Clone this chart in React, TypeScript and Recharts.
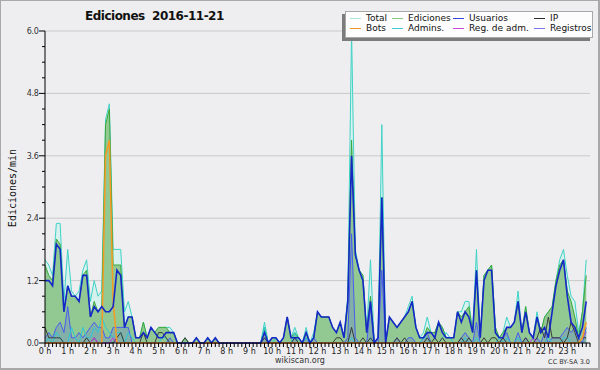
import { ComposedChart, Area, Line, XAxis, YAxis, CartesianGrid } from "recharts";

// ── Data (10-minute slots, edits per minute) ─────────────────────────────────

const HOURS = [
  "0 h", "1 h", "2 h", "3 h", "4 h", "5 h", "6 h", "7 h", "8 h", "9 h", "10 h", "11 h",
  "12 h", "13 h", "14 h", "15 h", "16 h", "17 h", "18 h", "19 h", "20 h", "21 h", "22 h", "23 h",
];

const TOTAL = [
  1.6, 1.5, 1.3, 2.3, 2.3, 0.8,
  1.8, 1.0, 0.9, 1.0, 1.4, 1.6,
  0.8, 1.2, 0.9, 1.0, 4.3, 4.6,
  1.8, 1.8, 1.8, 0.6, 0.8, 0.5,
  0.1, 0.1, 0.4, 0.1, 0.3, 0.2,
  0.3, 0.3, 0.3, 0.3, 0.2, 0,
  0, 0.1, 0, 0, 0.1, 0,
  0, 0.1, 0, 0.1, 0, 0,
  0, 0, 0, 0, 0, 0,
  0, 0, 0, 0, 0.4, 0,
  0.1, 0.1, 0, 0.1, 0.5, 0.1,
  0.3, 0.1, 0, 0.3, 0, 0.2,
  0.6, 0.5, 0.5, 0.5, 0.3, 0.2,
  0.4, 0.1, 0.9, 6.0, 1.8, 1.4,
  1.3, 0.2, 1.6, 0, 0.1, 4.2,
  0, 0.5, 0.4, 0.3, 0.4, 0.5,
  0.7, 0.9, 0.3, 0.1, 0.2, 0.5,
  0.2, 0.2, 0.4, 0.3, 0.1, 0.1,
  0.1, 0.6, 0.6, 0.8, 0.8, 0.2,
  1.8, 0.1, 1.3, 1.4, 1.5, 0.3,
  0.1, 0.2, 0.5, 0.3, 0.4, 1.0,
  0.2, 0.7, 0.2, 0.1, 0.6, 0.2,
  0.5, 0.6, 0.7, 1.2, 1.6, 1.8,
  1.3, 0.9, 0.8, 0.2, 0.6, 1.6,
];

const EDICIONES = [
  1.5, 1.3, 1.2, 2.0, 1.9, 0.6,
  1.1, 0.9, 0.9, 0.8, 1.3, 1.4,
  0.5, 0.8, 0.6, 0.7, 4.2, 4.5,
  1.5, 1.5, 1.5, 0.3, 0.5, 0.5,
  0.1, 0.1, 0.4, 0.1, 0.3, 0.2,
  0.3, 0.3, 0.3, 0.2, 0.2, 0,
  0, 0.1, 0, 0, 0.1, 0,
  0, 0.1, 0, 0.1, 0, 0,
  0, 0, 0, 0, 0, 0,
  0, 0, 0, 0, 0.3, 0,
  0.1, 0.1, 0, 0.1, 0.5, 0.1,
  0.2, 0.1, 0, 0.2, 0, 0.1,
  0.6, 0.5, 0.5, 0.5, 0.3, 0.2,
  0.4, 0.1, 0.8, 3.9, 1.7, 1.4,
  1.3, 0.2, 0.9, 0, 0.1, 2.8,
  0, 0.5, 0.4, 0.3, 0.4, 0.5,
  0.6, 0.8, 0.3, 0.1, 0.1, 0.3,
  0.2, 0.2, 0.4, 0.3, 0.1, 0.1,
  0.1, 0.6, 0.5, 0.6, 0.7, 0.2,
  1.4, 0.1, 1.3, 1.4, 1.5, 0.3,
  0.1, 0.2, 0.3, 0.3, 0.4, 0.8,
  0.2, 0.7, 0.2, 0.1, 0.5, 0.2,
  0.5, 0.6, 0.7, 1.2, 1.5, 1.6,
  1.0, 0.8, 0.5, 0.1, 0.6, 1.3,
];

const USUARIOS = [
  1.2, 1.2, 1.1, 1.9, 1.8, 0.6,
  1.1, 0.9, 0.9, 0.8, 1.3, 1.3,
  0.5, 0.7, 0.6, 0.7, 0.6, 0.6,
  0.7, 1.4, 1.3, 0.3, 0.5, 0.5,
  0.1, 0.1, 0.2, 0.1, 0.3, 0.2,
  0.1, 0.1, 0.2, 0.2, 0.2, 0,
  0, 0, 0, 0, 0.1, 0,
  0, 0.1, 0, 0.1, 0, 0,
  0, 0, 0, 0, 0, 0,
  0, 0, 0, 0, 0.2, 0,
  0.1, 0.1, 0, 0.1, 0.5, 0.1,
  0.1, 0.1, 0, 0.2, 0, 0.1,
  0.6, 0.5, 0.5, 0.5, 0.3, 0.2,
  0.4, 0.1, 0.8, 3.6, 1.7, 1.4,
  1.2, 0.2, 0.8, 0, 0.1, 2.8,
  0, 0.5, 0.4, 0.3, 0.4, 0.5,
  0.6, 0.8, 0.3, 0.1, 0.1, 0.2,
  0.2, 0.1, 0.4, 0.2, 0.1, 0.1,
  0.1, 0.6, 0.4, 0.6, 0.5, 0.2,
  1.4, 0.1, 1.2, 1.4, 1.4, 0.2,
  0.1, 0.1, 0.3, 0.3, 0.4, 0.8,
  0.2, 0.6, 0.2, 0.1, 0.5, 0.2,
  0.3, 0.1, 0.6, 1.1, 1.4, 1.6,
  0.9, 0.4, 0.3, 0.1, 0.3, 0.8,
];

const IP = [
  0.3, 0.1, 0.1, 0.1, 0.1, 0,
  0, 0, 0, 0, 0, 0.1,
  0, 0.1, 0, 0, 0, 0,
  0, 0.1, 0.2, 0, 0, 0,
  0, 0, 0.2, 0, 0, 0,
  0.2, 0.2, 0.1, 0, 0, 0,
  0, 0.1, 0, 0, 0, 0,
  0, 0, 0, 0, 0, 0,
  0, 0, 0, 0, 0, 0,
  0, 0, 0, 0, 0.1, 0,
  0, 0, 0, 0, 0, 0,
  0.1, 0, 0, 0, 0, 0,
  0, 0, 0, 0, 0, 0.1,
  0.1, 0, 0, 0.3, 0, 0,
  0.1, 0, 0.1, 0, 0, 0,
  0, 0, 0, 0.1, 0, 0.1,
  0, 0, 0, 0, 0, 0.1,
  0, 0.1, 0, 0.1, 0, 0,
  0, 0, 0.1, 0, 0.1, 0,
  0, 0, 0.1, 0, 0.1, 0.1,
  0, 0.1, 0, 0, 0, 0,
  0, 0.1, 0, 0, 0.1, 0.3,
  0.1, 0.5, 0.1, 0.1, 0.1, 0,
  0.1, 0.4, 0.2, 0, 0.1, 0.1,
];

const BOTS = [
  0, 0, 0, 0, 0, 0,
  0, 0, 0, 0, 0, 0,
  0, 0, 0, 0, 3.6, 3.9,
  0.8, 0, 0, 0, 0, 0,
  0, 0, 0, 0, 0, 0,
  0, 0, 0, 0, 0, 0,
  0, 0, 0, 0, 0, 0,
  0, 0, 0, 0, 0, 0,
  0, 0, 0, 0, 0, 0,
  0, 0, 0, 0, 0, 0,
  0, 0, 0, 0, 0, 0,
  0, 0, 0, 0, 0, 0,
  0, 0, 0, 0, 0, 0,
  0, 0, 0, 0, 0, 0,
  0, 0, 0, 0, 0, 0,
  0, 0, 0, 0, 0, 0,
  0, 0, 0, 0, 0, 0,
  0, 0, 0, 0, 0, 0,
  0, 0, 0, 0, 0, 0,
  0, 0, 0, 0, 0, 0,
  0, 0, 0, 0, 0, 0,
  0, 0, 0, 0, 0, 0,
  0, 0, 0, 0, 0, 0,
  0, 0, 0, 0, 0.1, 0.4,
];

const ADMINS = [
  0, 0.1, 0, 0.2, 0.1, 0,
  0, 0.3, 0.1, 0, 0.3, 0.1,
  0.1, 0.3, 0.2, 0.5, 0.3, 0.2,
  0.1, 0.2, 0.2, 0, 0.2, 0.1,
  0, 0, 0, 0, 0, 0,
  0, 0.1, 0.1, 0, 0, 0,
  0, 0, 0, 0, 0, 0,
  0, 0.1, 0, 0, 0, 0,
  0, 0, 0, 0, 0, 0,
  0, 0, 0, 0, 0.3, 0,
  0, 0.1, 0, 0, 0, 0,
  0.2, 0, 0, 0.1, 0, 0,
  0, 0, 0, 0, 0, 0,
  0, 0, 0, 0.1, 0, 0,
  0, 0, 0.1, 0, 0, 0,
  0, 0, 0, 0, 0, 0,
  0, 0, 0, 0, 0.1, 0.1,
  0, 0, 0, 0.1, 0.2, 0.1,
  0, 0, 0, 0.1, 0, 0,
  0.1, 0, 0, 0, 0, 0,
  0.1, 0, 0.1, 0, 0, 0.1,
  0, 0, 0, 0.1, 0, 0,
  0, 0.1, 0, 0, 0, 0.1,
  0.1, 0, 0, 0, 0.1, 0.2,
];

const REG_ADM = [
  0, 0, 0, 0, 0, 0,
  0, 0, 0, 0, 0, 0,
  0, 0.1, 0, 0, 0, 0,
  0.1, 0, 0, 0, 0, 0,
  0, 0, 0, 0, 0, 0,
  0, 0, 0, 0, 0, 0,
  0, 0, 0, 0, 0, 0,
  0, 0, 0, 0, 0, 0,
  0, 0, 0, 0, 0, 0,
  0, 0, 0, 0, 0, 0,
  0, 0, 0, 0, 0, 0,
  0, 0, 0, 0, 0, 0,
  0, 0, 0, 0, 0, 0,
  0, 0, 0, 0, 0, 0,
  0, 0, 0, 0, 0, 0,
  0, 0, 0, 0, 0, 0,
  0, 0, 0, 0, 0, 0,
  0, 0, 0, 0, 0, 0,
  0, 0, 0, 0, 0, 0,
  0, 0, 0, 0, 0, 0,
  0, 0, 0, 0, 0, 0,
  0, 0, 0, 0.1, 0, 0,
  0, 0, 0, 0, 0, 0,
  0, 0, 0, 0, 0.1, 0.2,
];

const REGISTROS = [
  0.1, 0.2, 0.1, 0.3, 0.4, 0.2,
  0.7, 0.1, 0.1, 0.2, 0.1, 0.2,
  0.3, 0.4, 0.3, 0.3, 0.1, 0.1,
  0.3, 0.3, 0.3, 0.3, 0.3, 0,
  0, 0, 0, 0, 0, 0,
  0, 0, 0, 0.1, 0, 0,
  0, 0, 0, 0, 0, 0,
  0, 0, 0, 0, 0, 0,
  0, 0, 0, 0, 0, 0,
  0, 0, 0, 0, 0.1, 0,
  0, 0, 0, 0, 0, 0,
  0.1, 0, 0, 0.1, 0, 0.1,
  0, 0, 0, 0, 0, 0,
  0, 0, 0.1, 2.1, 0.1, 0,
  0, 0, 0.7, 0, 0, 1.4,
  0, 0, 0, 0.1, 0, 0,
  0.1, 0.1, 0, 0, 0.1, 0.2,
  0, 0, 0, 0, 0, 0,
  0, 0, 0.1, 0.2, 0.1, 0,
  0.4, 0, 0, 0, 0, 0,
  0, 0.1, 0.2, 0, 0, 0.2,
  0, 0.1, 0, 0, 0.1, 0,
  0.2, 0, 0.1, 0.1, 0.1, 0.2,
  0.3, 0.2, 0.3, 0.1, 0, 0.3,
];

const Y_TICKS = [0, 0.3, 0.6, 0.9, 1.2, 1.5, 1.8, 2.1, 2.4, 2.7, 3.0, 3.3, 3.6, 3.9, 4.2, 4.5, 4.8, 5.1, 5.4, 5.7, 6.0];
const Y_LABELED = [0, 1.2, 2.4, 3.6, 4.8, 6.0];
const SLOTS_PER_HOUR = 6;
const X_TICKS = Array.from({ length: HOURS.length * SLOTS_PER_HOUR + 1 }, (_, k) => k);

const LEGEND = [
  { label: "Total", color: "#a9e6de" },
  { label: "Ediciones", color: "#86c886" },
  { label: "Usuarios", color: "#3a44e0" },
  { label: "IP", color: "#2a2a2a" },
  { label: "Bots", color: "#f0962a" },
  { label: "Admins.", color: "#3ecbd8" },
  { label: "Reg. de adm.", color: "#c84ad8" },
  { label: "Registros", color: "#7a78e8" },
];

const data = TOTAL.map((total, slot) => ({
  slot,
  total,
  ediciones: EDICIONES[slot],
  usuarios: USUARIOS[slot],
  ip: IP[slot],
  bots: BOTS[slot],
  admins: ADMINS[slot],
  regAdm: REG_ADM[slot],
  registros: REGISTROS[slot],
}));

const isMajor = (v: number) => Y_LABELED.some(m => Math.abs(m - v) < 1e-6);

// ── Axis ticks ───────────────────────────────────────────────────────────────

function XTick({ x, y, payload }: any) {
  const v = payload.value as number;
  const hour = v % SLOTS_PER_HOUR === 0 ? HOURS[v / SLOTS_PER_HOUR] : undefined;
  return (
    <g>
      <line x1={x} y1={y} x2={x} y2={y + 4} stroke="#000" />
      {hour && (
        <text x={x} y={y + 10.5} textAnchor="middle" fontSize={8} fill="#222" fontFamily="DejaVu Sans">
          {hour}
        </text>
      )}
    </g>
  );
}

function YTick({ x, y, payload }: any) {
  const v = payload.value as number;
  const major = isMajor(v);
  return (
    <g>
      <line x1={x - (major ? 6 : 3)} y1={y} x2={x} y2={y} stroke="#000" />
      {major && (
        <text x={x - 6.5} y={y + 3} textAnchor="end" fontSize={8} fill="#333" fontFamily="DejaVu Sans" letterSpacing={-0.3}>
          {v.toFixed(1)}
        </text>
      )}
    </g>
  );
}

// ── Main chart ───────────────────────────────────────────────────────────────

export default function App() {
  return (
    <div style={{ position: "absolute", left: 0, top: 0, width: 600, height: 370, background: "#eeeef0", fontFamily: "DejaVu Sans" }}>
      <ComposedChart width={600} height={370} data={data} margin={{ top: 31, right: 10, bottom: 0, left: 0 }}>
        <CartesianGrid
          vertical={false}
          stroke="#c9c9c9"
          horizontalCoordinatesGenerator={({ offset }: any) =>
            Y_LABELED.filter(v => v > 0).map(v => offset.top + offset.height * (1 - v / 6))
          }
        />
        <XAxis
          dataKey="slot"
          type="number"
          domain={[0, 144]}
          ticks={X_TICKS}
          interval={0}
          height={27}
          tickSize={0}
          tickMargin={0}
          tickLine={false}
          axisLine={{ stroke: "#000" }}
          tick={(p: any) => <XTick {...p} />}
        />
        <YAxis
          type="number"
          domain={[0, 6]}
          ticks={Y_TICKS}
          interval={0}
          width={45}
          tickSize={0}
          tickMargin={0}
          tickLine={false}
          axisLine={{ stroke: "#000" }}
          tick={(p: any) => <YTick {...p} />}
        />

        <Area type="linear" dataKey="total" stroke="#3fd3c6" strokeWidth={1} fill="#d6f1ee" fillOpacity={1} dot={false} activeDot={false} isAnimationActive={false} />
        <Area type="linear" dataKey="ediciones" stroke="#3aa83a" strokeWidth={1} fill="#92c992" fillOpacity={1} dot={false} activeDot={false} isAnimationActive={false} />
        <Area type="linear" dataKey="registros" stroke="#4a5cf0" strokeWidth={1} fill="#5d73d6" fillOpacity={0.3} dot={false} activeDot={false} isAnimationActive={false} />
        <Line type="linear" dataKey="admins" stroke="#2ec7d6" strokeWidth={1} dot={false} activeDot={false} isAnimationActive={false} />
        <Line type="linear" dataKey="ip" stroke="#3a3a3a" strokeWidth={1} dot={false} activeDot={false} isAnimationActive={false} />
        <Line type="linear" dataKey="regAdm" stroke="#c63ce0" strokeWidth={1} dot={false} activeDot={false} isAnimationActive={false} />
        <Line type="linear" dataKey="bots" stroke="#f59a23" strokeWidth={1.5} dot={false} activeDot={false} isAnimationActive={false} />
        <Line type="linear" dataKey="usuarios" stroke="#1428c8" strokeWidth={1.6} dot={false} activeDot={false} isAnimationActive={false} />
      </ComposedChart>

      {/* Title */}
      <div style={{ position: "absolute", left: 85, top: 9, fontSize: 12, fontWeight: "bold", letterSpacing: -0.5, whiteSpace: "pre", color: "#111" }}>
        {"Ediciones  2016-11-21"}
      </div>

      {/* Y axis label */}
      <div
        style={{
          position: "absolute", left: 12, top: 188, fontSize: 10, fontFamily: "DejaVu Sans Mono", color: "#111",
          transform: "translate(-50%, -50%) rotate(-90deg)", whiteSpace: "nowrap",
        }}
      >
        Ediciones/min
      </div>

      {/* Legend */}
      <div
        style={{
          position: "absolute", left: 345, top: 11, width: 248, height: 27, boxSizing: "border-box",
          background: "#fdfdfd", border: "1px solid #a8a8a8", boxShadow: "-3px 3px 0 #7c7c7c",
        }}
      />
      <div
        style={{
          position: "absolute", left: 350, top: 13, display: "grid",
          gridTemplateColumns: "42px 61px 81px 56px", gridAutoRows: "10px", fontSize: 9, color: "#111",
        }}
      >
        {LEGEND.map(l => (
          <div key={l.label} style={{ display: "flex", alignItems: "center", whiteSpace: "nowrap", lineHeight: "10px" }}>
            <span style={{ width: 11, height: 1, background: l.color, marginRight: 5, flexShrink: 0 }} />
            {l.label}
          </div>
        ))}
      </div>

      {/* Footer */}
      <div style={{ position: "absolute", left: 0, width: 600, top: 356, textAlign: "center", fontSize: 8, lineHeight: "9px", color: "#333" }}>
        wikiscan.org
      </div>
      <div style={{ position: "absolute", right: 10, top: 358, fontSize: 6.5, lineHeight: "8px", color: "#333" }}>CC BY-SA 3.0</div>

      {/* Frame */}
      <div style={{ position: "absolute", left: 0, top: 0, width: 600, height: 370, boxSizing: "border-box", border: "1px solid #a8a8a8", borderRightWidth: 2, borderBottomWidth: 2, pointerEvents: "none" }} />
    </div>
  );
}
